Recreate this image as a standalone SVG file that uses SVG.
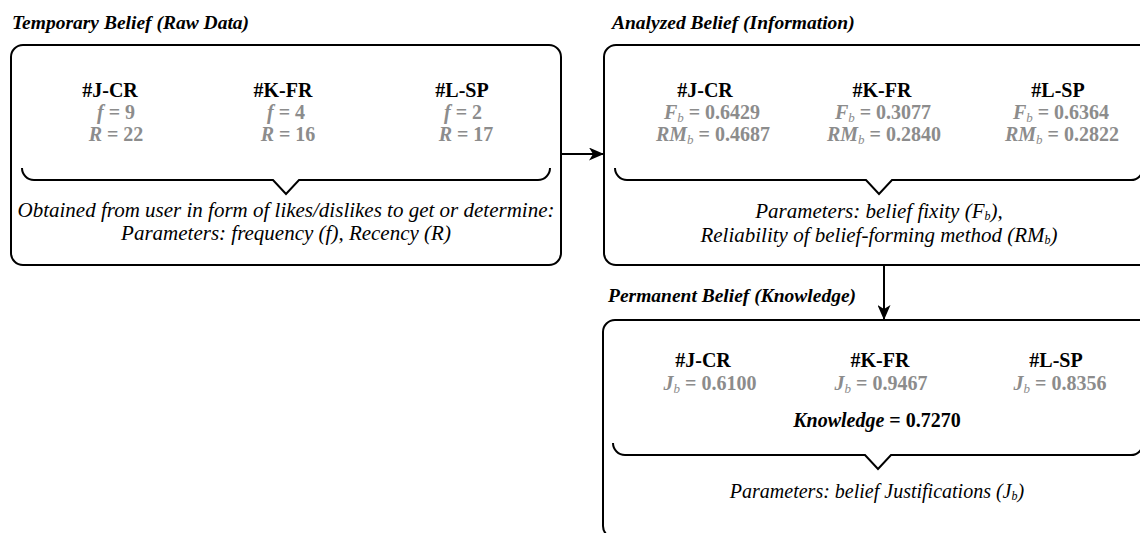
<svg xmlns="http://www.w3.org/2000/svg" width="1140" height="533" viewBox="0 0 1140 533">
  <style>
    .box { fill: #ffffff; stroke: #000000; stroke-width: 2; }
    .brace { fill: none; stroke: #000000; stroke-width: 2; stroke-linejoin: miter; }
    .edge { fill: none; stroke: #000000; stroke-width: 2; }
    .title { font-family: "Liberation Serif", "Times New Roman", serif; font-size: 19.5px; font-weight: bold; font-style: italic; fill: #000000; }
    .id { font-family: "Liberation Serif", "Times New Roman", serif; font-size: 20px; font-weight: bold; fill: #000000; text-anchor: middle; }
    .val { font-family: "Liberation Serif", "Times New Roman", serif; font-size: 20px; font-weight: bold; fill: #8c8c8c; text-anchor: middle; }
    .val .v { font-style: italic; }
    .sub { font-style: italic; font-weight: normal; font-size: 13px; }
    .note { font-family: "Liberation Serif", "Times New Roman", serif; font-size: 20px; font-style: italic; fill: #000000; text-anchor: middle; }
    .note.wide { font-size: 21px; }
    .note .sub { font-size: 12px; }
    .total { font-family: "Liberation Serif", "Times New Roman", serif; font-size: 20px; font-weight: bold; fill: #000000; text-anchor: middle; }
  </style>
  <defs>
    <marker id="arrow" markerWidth="15" markerHeight="13" refX="14" refY="6.5" orient="auto" markerUnits="userSpaceOnUse">
      <path d="M0,0 L15,6.5 L0,13 L4,6.5 Z" fill="#000000"/>
    </marker>
  </defs>

  <!-- Stage 1: temporary belief -->
  <g id="temporary-belief">
    <text class="title" x="12" y="29">Temporary Belief (Raw Data)</text>
    <rect class="box" x="11" y="45" width="550" height="220" rx="12" ry="12"/>
    <text class="id" x="110" y="97">#J-CR</text>
    <text class="val" x="116" y="119"><tspan class="v">f</tspan> = 9</text>
    <text class="val" x="116" y="141"><tspan class="v">R</tspan> = 22</text>
    <text class="id" x="283" y="97">#K-FR</text>
    <text class="val" x="286" y="119"><tspan class="v">f</tspan> = 4</text>
    <text class="val" x="288" y="141"><tspan class="v">R</tspan> = 16</text>
    <text class="id" x="462" y="97">#L-SP</text>
    <text class="val" x="463" y="119"><tspan class="v">f</tspan> = 2</text>
    <text class="val" x="466" y="141"><tspan class="v">R</tspan> = 17</text>
    <path class="brace" d="M22,168 A12,12 0 0 0 34,180 L273,180 L286,194 L299,180 L538,180 A12,12 0 0 0 550,168"/>
    <text class="note wide" x="286" y="217">Obtained from user in form of likes/dislikes to get or determine:</text>
    <text class="note wide" x="286" y="240">Parameters: frequency (f), Recency (R)</text>
  </g>

  <!-- Stage 2: analyzed belief -->
  <g id="analyzed-belief">
    <text class="title" x="612" y="29">Analyzed Belief (Information)</text>
    <rect class="box" x="604" y="45" width="550" height="220" rx="12" ry="12"/>
    <text class="id" x="705" y="97">#J-CR</text>
    <text class="val" x="712" y="119"><tspan class="v">F</tspan><tspan class="sub" dy="3">b</tspan><tspan dy="-3"> = 0.6429</tspan></text>
    <text class="val" x="713" y="141"><tspan class="v">RM</tspan><tspan class="sub" dy="3">b</tspan><tspan dy="-3"> = 0.4687</tspan></text>
    <text class="id" x="882" y="97">#K-FR</text>
    <text class="val" x="883" y="119"><tspan class="v">F</tspan><tspan class="sub" dy="3">b</tspan><tspan dy="-3"> = 0.3077</tspan></text>
    <text class="val" x="884" y="141"><tspan class="v">RM</tspan><tspan class="sub" dy="3">b</tspan><tspan dy="-3"> = 0.2840</tspan></text>
    <text class="id" x="1058" y="97">#L-SP</text>
    <text class="val" x="1061" y="119"><tspan class="v">F</tspan><tspan class="sub" dy="3">b</tspan><tspan dy="-3"> = 0.6364</tspan></text>
    <text class="val" x="1062" y="141"><tspan class="v">RM</tspan><tspan class="sub" dy="3">b</tspan><tspan dy="-3"> = 0.2822</tspan></text>
    <path class="brace" d="M615,168 A12,12 0 0 0 627,180 L866,180 L879,194 L892,180 L1131,180 A12,12 0 0 0 1143,168"/>
    <text class="note wide" x="879" y="218">Parameters: belief fixity (F<tspan class="sub" dy="2">b</tspan><tspan dy="-2">),</tspan></text>
    <text class="note wide" x="879" y="242">Reliability of belief-forming method (RM<tspan class="sub" dy="2">b</tspan><tspan dy="-2">)</tspan></text>
  </g>

  <!-- Stage 3: permanent belief -->
  <g id="permanent-belief">
    <text class="title" x="608" y="302">Permanent Belief (Knowledge)</text>
    <rect class="box" x="603" y="320" width="550" height="218" rx="12" ry="12"/>
    <text class="id" x="703" y="367">#J-CR</text>
    <text class="val" x="710" y="390"><tspan class="v">J</tspan><tspan class="sub" dy="3">b</tspan><tspan dy="-3"> = 0.6100</tspan></text>
    <text class="id" x="880" y="367">#K-FR</text>
    <text class="val" x="881" y="390"><tspan class="v">J</tspan><tspan class="sub" dy="3">b</tspan><tspan dy="-3"> = 0.9467</tspan></text>
    <text class="id" x="1056" y="367">#L-SP</text>
    <text class="val" x="1060" y="390"><tspan class="v">J</tspan><tspan class="sub" dy="3">b</tspan><tspan dy="-3"> = 0.8356</tspan></text>
    <text class="total" x="877" y="427"><tspan font-style="italic">Knowledge</tspan> = 0.7270</text>
    <path class="brace" d="M613,443 A12,12 0 0 0 625,455 L865,455 L878,469 L891,455 L1131,455 A12,12 0 0 0 1143,443"/>
    <text class="note" x="877" y="498">Parameters: belief Justifications (J<tspan class="sub" dy="2">b</tspan><tspan dy="-2">)</tspan></text>
  </g>

  <!-- Flow between stages -->
  <g id="connectors">
    <path class="edge" d="M561,154 L603,154" marker-end="url(#arrow)"/>
    <path class="edge" d="M884,265 L884,319" marker-end="url(#arrow)"/>
  </g>
</svg>
